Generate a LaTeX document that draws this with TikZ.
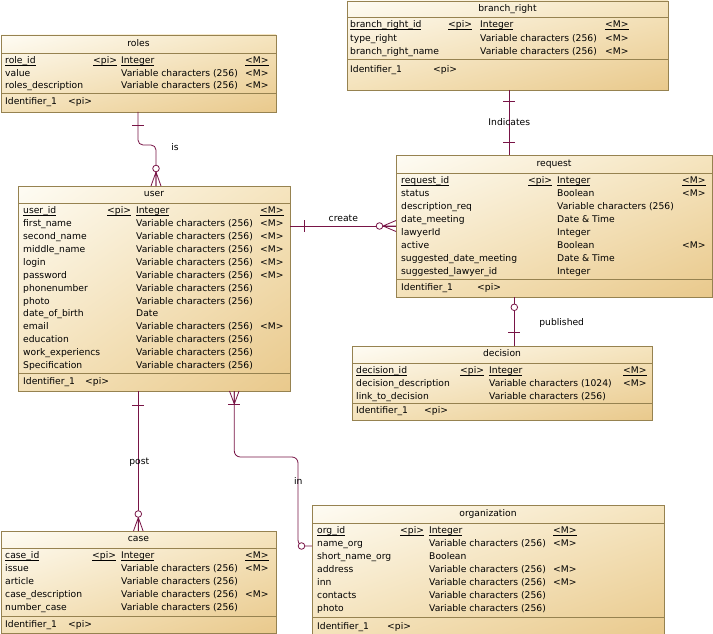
\documentclass[tikz,border=0pt]{standalone}
\usepackage{fontspec}
\setmainfont{DejaVu Sans}
\usetikzlibrary{calc,shadings}
\definecolor{bdc}{RGB}{150,130,80}
\definecolor{lnc}{RGB}{120,20,70}
\definecolor{cUL}{RGB}{254,252,244}
\definecolor{cUR}{RGB}{245,228,190}
\definecolor{cLL}{RGB}{244,226,186}
\definecolor{cLR}{RGB}{233,201,140}
\newcommand\ul[1]{\underline{\smash{#1}}}
\newcommand\setcols[4]{\def\xcA{#1}\def\xcB{#2}\def\xcC{#3}\def\xcD{#4}}
\newcommand\erow[5]{%
  \node[cell] at (\xcA,#1) {#2};
  \node[cell] at (\xcB,#1) {#3};
  \node[cell] at (\xcC,#1) {#4};
  \node[cell] at (\xcD,#1) {#5};}
% name, L, T, R, B, S1, S2, title, title y
\newcommand\ent[9]{%
  \node[ebox, minimum width={#4-#2}, minimum height={#5-#3}, anchor=north west] (#1) at (#2,#3) {};
  \draw[sep] (#2,#6) -- (#4,#6);
  \draw[sep] (#2,#7) -- (#4,#7);
  \node[cell, anchor=mid] at ({(#2+#4)/2},#9) {#8};}
\newcommand\VC{Variable characters (256)}
\tikzset{
  ebox/.style={draw=bdc, line width=0.8pt, inner sep=0pt, outer sep=0pt, rectangle,
    upper left=cUL, upper right=cUR, lower left=cLL, lower right=cLR},
  sep/.style={draw=bdc, line width=0.8pt},
  cell/.style={inner sep=0pt, anchor=mid west, font=\fontsize{9.2}{11}\selectfont, text=black},
  conn/.style={draw=lnc, line width=0.8pt},
  zcirc/.style={draw=lnc, line width=0.8pt, fill=white},
  lbl/.style={inner sep=0pt, anchor=mid, font=\fontsize{9.2}{11}\selectfont, text=black},
}
\begin{document}
\begin{tikzpicture}[x=1pt, y=-1pt]
\useasboundingbox (0,0) rectangle (713,634);
\fill[white] (0,0) rectangle (713,634);

% ---------- entities ----------
\ent{roles}{1}{35}{276}{112}{53}{93}{roles}{44}
\setcols{5}{93}{121}{245}
\erow{61}{\ul{role\_id}}{\ul{<pi>}}{\ul{Integer}}{\ul{<M>}}
\erow{73.5}{value}{}{\VC}{<M>}
\erow{86}{roles\_description}{}{\VC}{<M>}
\node[cell] at (5,102) {Identifier\_1};
\node[cell] at (68,102) {<pi>};

\ent{branch}{347}{1}{668}{90}{17}{59}{branch\_right}{9}
\setcols{350}{448}{480}{605}
\erow{25}{\ul{branch\_right\_id}}{\ul{<pi>}}{\ul{Integer}}{\ul{<M>}}
\erow{38.5}{type\_right}{}{\VC}{<M>}
\erow{51.5}{branch\_right\_name}{}{\VC}{<M>}
\node[cell] at (350,70) {Identifier\_1};
\node[cell] at (433,70) {<pi>};

\ent{request}{396}{155}{712}{297}{173}{279}{request}{164}
\setcols{401}{528}{557}{682}
\erow{181}{\ul{request\_id}}{\ul{<pi>}}{\ul{Integer}}{\ul{<M>}}
\erow{194}{status}{}{Boolean}{<M>}
\erow{207}{description\_req}{}{\VC}{}
\erow{220}{date\_meeting}{}{Date \& Time}{}
\erow{232.5}{lawyerId}{}{Integer}{}
\erow{245.5}{active}{}{Boolean}{<M>}
\erow{258.5}{suggested\_date\_meeting}{}{Date \& Time}{}
\erow{271.5}{suggested\_lawyer\_id}{}{Integer}{}
\node[cell] at (401,287.5) {Identifier\_1};
\node[cell] at (477,287.5) {<pi>};

\ent{user}{18}{186}{290}{391}{203}{373}{user}{194}
\setcols{23}{107}{136}{260}
\erow{211}{\ul{user\_id}}{\ul{<pi>}}{\ul{Integer}}{\ul{<M>}}
\erow{223.9}{first\_name}{}{\VC}{<M>}
\erow{236.8}{second\_name}{}{\VC}{<M>}
\erow{249.7}{middle\_name}{}{\VC}{<M>}
\erow{262.6}{login}{}{\VC}{<M>}
\erow{275.5}{password}{}{\VC}{<M>}
\erow{288.4}{phonenumber}{}{\VC}{}
\erow{301.3}{photo}{}{\VC}{}
\erow{314.2}{date\_of\_birth}{}{Date}{}
\erow{327.1}{email}{}{\VC}{<M>}
\erow{340}{education}{}{\VC}{}
\erow{352.9}{work\_experiencs}{}{\VC}{}
\erow{365.8}{Specification}{}{\VC}{}
\node[cell] at (23,382) {Identifier\_1};
\node[cell] at (85,382) {<pi>};

\ent{decision}{352}{346}{652}{420}{363}{403.5}{decision}{354}
\setcols{356}{460}{489}{623}
\erow{371}{\ul{decision\_id}}{\ul{<pi>}}{\ul{Integer}}{\ul{<M>}}
\erow{384}{decision\_description}{}{Variable characters (1024)}{<M>}
\erow{397}{link\_to\_decision}{}{\VC}{}
\node[cell] at (356,411) {Identifier\_1};
\node[cell] at (424,411) {<pi>};

\ent{case}{1}{531}{276}{633}{548}{616}{case}{539}
\setcols{5}{92}{121}{245}
\erow{556}{\ul{case\_id}}{\ul{<pi>}}{\ul{Integer}}{\ul{<M>}}
\erow{568.9}{issue}{}{\VC}{<M>}
\erow{581.8}{article}{}{\VC}{}
\erow{594.7}{case\_description}{}{\VC}{<M>}
\erow{607.6}{number\_case}{}{\VC}{}
\node[cell] at (5,624.5) {Identifier\_1};
\node[cell] at (68,624.5) {<pi>};

\ent{org}{312}{505}{664}{638}{523}{617}{organization}{514}
\setcols{317}{400}{429}{553}
\erow{531}{\ul{org\_id}}{\ul{<pi>}}{\ul{Integer}}{\ul{<M>}}
\erow{543.9}{name\_org}{}{\VC}{<M>}
\erow{556.8}{short\_name\_org}{}{Boolean}{}
\erow{569.7}{address}{}{\VC}{<M>}
\erow{582.6}{inn}{}{\VC}{<M>}
\erow{595.5}{contacts}{}{\VC}{}
\erow{608.4}{photo}{}{\VC}{}
\node[cell] at (317,627) {Identifier\_1};
\node[cell] at (387,627) {<pi>};

% ---------- helper coordinates ----------
\coordinate (xis) at (138,0);
\coordinate (xisb) at (156,0);
\coordinate (ycr) at (0,226);
\coordinate (xind) at (509.3,0);
\coordinate (xpub) at (514.3,0);
\coordinate (xpost) at (138.3,0);
\coordinate (xin) at (234.3,0);
\coordinate (yin) at (0,546);

% ---------- is ----------
\draw[conn, rounded corners=5pt] (roles.south -| xis) -- (138,145) -- (156,145) -- (user.north -| xisb);
\draw[conn] (132,125.7) -- (144,125.7);
\draw[conn] (156,172) -- (151,186) (156,172) -- (156,186) (156,172) -- (161,186);
\draw[zcirc] (156,168.5) circle (3.3);
\node[lbl] at (175,148) {is};

% ---------- create ----------
\draw[conn] (user.east |- ycr) -- (request.west |- ycr);
\draw[conn] (304.3,220) -- (304.3,232);
\draw[conn] (383,226) -- (396,220.5) (383,226) -- (396,226) (383,226) -- (396,231.5);
\draw[zcirc] (379.5,226) circle (3.3);
\node[lbl] at (343.3,219) {create};

% ---------- Indicates ----------
\draw[conn] (branch.south -| xind) -- (request.north -| xind);
\draw[conn] (503.3,101.7) -- (515.3,101.7) (503.3,142.3) -- (515.3,142.3);
\node[lbl] at (509.3,122.7) {Indicates};

% ---------- published ----------
\draw[conn] (request.south -| xpub) -- (decision.north -| xpub);
\draw[conn] (508.3,332.3) -- (520.3,332.3);
\draw[zcirc] (514.3,307.3) circle (3.3);
\node[lbl] at (561.7,322.7) {published};

% ---------- post ----------
\draw[conn] (user.south -| xpost) -- (case.north -| xpost);
\draw[conn] (132.3,405) -- (144.3,405);
\draw[conn] (138.3,517.5) -- (133.5,531) (138.3,517.5) -- (138.3,531) (138.3,517.5) -- (143.1,531);
\draw[zcirc] (138.3,514) circle (3.3);
\node[lbl] at (139.3,461.7) {post};

% ---------- in ----------
\draw[conn, rounded corners=6pt] (user.south -| xin) -- (234.3,457) -- (298,457) -- (298,546) -- (org.west |- yin);
\draw[conn] (234.3,404) -- (229.5,391) (234.3,404) -- (234.3,391) (234.3,404) -- (239.1,391);
\draw[conn] (228.3,404) -- (240.3,404);
\draw[zcirc] (301.5,546) circle (3.3);
\node[lbl] at (298.3,481.7) {in};
\end{tikzpicture}
\end{document}
